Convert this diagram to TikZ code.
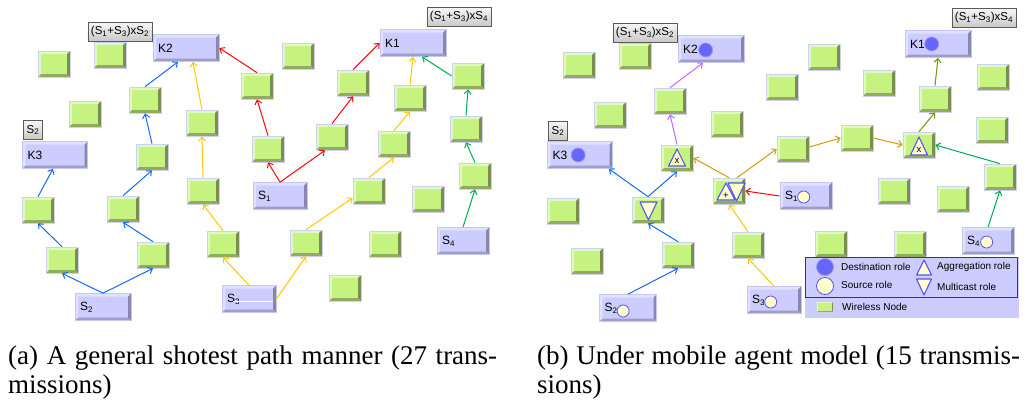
\documentclass[tikz,border=0pt]{standalone}
\usepackage{fontspec}
\setmainfont{Liberation Serif}
\newfontfamily\arialfont{Liberation Sans}
\usetikzlibrary{arrows.meta}

\definecolor{wgreen}{RGB}{198,242,128}
\definecolor{wlight}{RGB}{224,249,190}
\definecolor{wdark}{RGB}{122,142,82}
\definecolor{wdarkb}{RGB}{148,170,98}
\definecolor{wedge}{RGB}{205,210,238}
\definecolor{pfill}{RGB}{204,204,255}
\definecolor{plight}{RGB}{224,224,255}
\definecolor{pdark}{RGB}{135,135,175}
\definecolor{pdarkb}{RGB}{158,158,200}
\definecolor{pedge}{RGB}{198,198,238}
\definecolor{taglight}{RGB}{246,246,246}
\definecolor{tagdark}{RGB}{200,200,200}
\definecolor{tagedge}{RGB}{90,90,90}
\definecolor{cblue}{RGB}{20,105,245}
\definecolor{cyellow}{RGB}{255,200,0}
\definecolor{cred}{RGB}{245,10,10}
\definecolor{cgreen}{RGB}{0,170,85}
\definecolor{cpurple}{RGB}{200,100,255}
\definecolor{cgold}{RGB}{210,155,20}
\definecolor{colive}{RGB}{110,150,10}
\definecolor{dotblue}{RGB}{102,102,255}
\definecolor{dotyellow}{RGB}{255,255,204}
\definecolor{roleedge}{RGB}{85,85,240}
\definecolor{legedge}{RGB}{60,60,60}

\tikzset{
  bevel/.style n args={4}{path picture={
    \path (path picture bounding box.south west) coordinate (bSW)
          (path picture bounding box.north west) coordinate (bNW)
          (path picture bounding box.north east) coordinate (bNE)
          (path picture bounding box.south east) coordinate (bSE);
    \fill[#1] (bSW) -- (bNW) -- (bNE) -- ([xshift=-#4,yshift=-#4]bNE)
          -- ([xshift=#4,yshift=-#4]bNW) -- ([xshift=#4,yshift=#4]bSW) -- cycle;
    \fill[#2] (bNE) -- (bSE) -- ([xshift=-#4,yshift=#4]bSE) -- ([xshift=-#4,yshift=-#4]bNE) -- cycle;
    \fill[#3] (bSW) -- (bSE) -- ([xshift=-#4,yshift=#4]bSE) -- ([xshift=#4,yshift=#4]bSW) -- cycle;
  }},
  wnode/.style={rectangle, minimum width=32pt, minimum height=26pt, inner sep=0pt,
    fill=wgreen, draw=wedge, line width=0.7pt, bevel={wlight}{wdark}{wdarkb}{3pt}},
  knode/.style={rectangle, minimum height=27pt, inner xsep=5pt, inner ysep=0pt,
    text width=56pt, align=left, fill=pfill, draw=pedge, line width=0.7pt,
    bevel={plight}{pdark}{pdarkb}{3pt}, font=\arialfont\fontsize{12}{13}\selectfont},
  snode/.style={knode, text width=44pt},
  tag/.style={rectangle, draw=tagedge, line width=0.8pt, top color=taglight,
    bottom color=tagdark, minimum height=19pt, inner xsep=3pt, inner ysep=0pt,
    font=\arialfont\fontsize{11.5}{13}\selectfont},
  link/.style={line width=1pt, -{Straight Barb[length=4pt,width=7pt]}},
  dest/.style={circle, fill=dotblue, draw=roleedge!60, line width=0.8pt,
    minimum size=14pt, inner sep=0pt},
  src/.style={circle, fill=dotyellow, draw=roleedge, line width=0.8pt,
    minimum size=12pt, inner sep=0pt},
  role/.style={fill=dotyellow, draw=roleedge, line width=1.1pt, line join=round},
  rolesign/.style={inner sep=0pt, font=\arialfont\fontsize{9.5}{9.5}\selectfont},
  legtext/.style={anchor=west, inner sep=0pt, font=\arialfont\fontsize{10}{12}\selectfont},
  subcap/.style={anchor=base west, inner sep=0pt, font=\fontsize{27}{30}\selectfont},
}

\begin{document}
\begin{tikzpicture}[x=1pt, y=-1pt]
\useasboundingbox (0,0) rectangle (1027,405);
\fill[white] (0,0) rectangle (1027,405);

% ---------------- (a) shortest paths ----------------
\foreach \n/\px/\py in {a1/54/64, a2/110/55, a3/85/114, a4/145/100, a5/152/157,
  a6/202/123, a9/257/86, a10/298/56, a11/353/83, a14/410/98, a15/468/76,
  a16/466/129, a17/332/137, a18/394/144, a19/268/149, a26/203/191, a28/38/210,
  a29/62/260, a30/123/209, a31/153/255, a32/223/244, a37/369/191, a38/306/243,
  a39/428/199, a40/385/244, a41/345/288, a42/475/176}
  \node[wnode] (\n) at (\px,\py) {};

\node[knode] (aK2) at (186,48) {K2};
\node[knode] (aK1) at (413,43) {K1};
\node[knode, text width=55pt] (aK3) at (55,155) {K3};
\node[snode] (aS1) at (280,196) {S\textsubscript{1}};
\node[snode, text width=46pt] (aS2) at (103,307) {S\textsubscript{2}};
\node[snode] (aS3) at (249,299) {S\textsubscript{3}};
\node[snode, text width=42pt] (aS4) at (463,241) {S\textsubscript{4}};
\draw[white, line width=0.8pt] (233,301) -- (273,301);

\node[tag] (aT2) at (120,32) {(S\textsubscript{1}+S\textsubscript{3})xS\textsubscript{2}};
\node[tag] (aT1) at (459,17) {(S\textsubscript{1}+S\textsubscript{3})xS\textsubscript{4}};
\node[tag] (aT3) at (33,130) {S\textsubscript{2}};

% blue: S2 -> K3, K2
\draw[link, cblue] (aS2.north) -- (a29.south);
\draw[link, cblue] (aS2.north) -- (a31.south);
\draw[link, cblue] (a29.north) -- (a28.south);
\draw[link, cblue] (a28.north) -- ([xshift=-2pt]aK3.south);
\draw[link, cblue] (a31.north) -- (a30.south);
\draw[link, cblue] (a30.north) -- (a5.south);
\draw[link, cblue] (a5.north) -- (a4.south);
\draw[link, cblue] (a4.north) -- ([xshift=-8pt]aK2.south);
% yellow: S3 -> K2, K1
\draw[link, cyellow] (aS3.north) -- (a32.south);
\draw[link, cyellow] (a32.north) -- (a26.south);
\draw[link, cyellow] (a26.north) -- (a6.south);
\draw[link, cyellow] (a6.north) -- ([xshift=7pt]aK2.south);
\draw[link, cyellow] (aS3.east) -- (a38.south);
\draw[link, cyellow] (a38.north) -- ([yshift=-7pt]a37.west);
\draw[link, cyellow] (a37.north) -- (a18.south);
\draw[link, cyellow] (a18.north) -- (a14.south);
\draw[link, cyellow] (a14.north) -- (aK1.south);
% red: S1 -> K2, K1
\draw[link, cred] (aS1.north) -- (a19.south);
\draw[link, cred] (aS1.north) -- ([xshift=-7pt]a17.south);
\draw[link, cred] (a19.north) -- (a9.south);
\draw[link, cred] (a9.north) -- (aK2.east);
\draw[link, cred] (a17.north) -- (a11.south);
\draw[link, cred] (a11.north) -- (aK1.west);
% green: S4 -> K1
\draw[link, cgreen] (aS4.north) -- (a42.south);
\draw[link, cgreen] (a42.north) -- (a16.south);
\draw[link, cgreen] (a16.north) -- (a15.south);
\draw[link, cgreen] (a15.west) -- ([xshift=9pt]aK1.south);

% ---------------- (b) mobile agent model ----------------
\foreach \n/\px/\py in {b1/579/65, b2/635/56, b3/610/115, b4/670/101, b5/677/158,
  b6/727/124, b9/782/87, b10/824/57, b11/879/83, b14/935/99, b15/993/77,
  b16/992/130, b17/857/138, b18/919/145, b19/793/149, b26/729/191, b28/563/211,
  b29/587/261, b30/648/210, b31/678/255, b32/748/245, b37/894/191, b38/831/244,
  b39/953/199, b40/910/244, b42/1000/177}
  \node[wnode] (\n) at (\px,\py) {};

\node[knode] (bK2) at (711,49) {K2};
\node[knode] (bK1) at (938,44) {K1};
\node[knode, text width=55pt] (bK3) at (580,155) {K3};
\node[snode, text width=42pt] (bS1) at (806,196) {S\textsubscript{1}};
\node[snode, text width=47pt] (bS2) at (628,308) {S\textsubscript{2}};
\node[snode] (bS3) at (774,300) {S\textsubscript{3}};
\node[snode, text width=42pt] (bS4) at (988,241) {S\textsubscript{4}};

\node[dest] (dK2) at ([xshift=28pt,yshift=-1pt]bK2.west) {};
\node[dest] (dK1) at ([xshift=27pt]bK1.west) {};
\node[dest] (dK3) at ([xshift=31pt]bK3.west) {};
\node[src] (sS1) at ([xshift=24pt,yshift=-1pt]bS1.west) {};
\node[src] (sS2) at ([xshift=24pt,yshift=-3pt]bS2.west) {};
\node[src] (sS3) at ([xshift=24pt,yshift=-2pt]bS3.west) {};
\node[src] (sS4) at ([xshift=25pt,yshift=-1pt]bS4.west) {};

\node[tag] (bT2) at (645,33) {(S\textsubscript{1}+S\textsubscript{3})xS\textsubscript{2}};
\node[tag] (bT1) at (984,18) {(S\textsubscript{1}+S\textsubscript{3})xS\textsubscript{4}};
\node[tag] (bT3) at (558,131) {S\textsubscript{2}};

% aggregation / multicast roles carried by the agents
\draw[role] (677,149) -- (685.5,166) -- (668.5,166) -- cycle;
\node[rolesign] (xb5) at (677,160.5) {x};
\draw[role] (919,137) -- (927.5,155) -- (910.5,155) -- cycle;
\node[rolesign] (xb18) at (919,149.5) {x};
\draw[role] (640,202) -- (657,202) -- (648.5,220) -- cycle;
\draw[role] (728,183) -- (745,183) -- (736.5,201) -- cycle;
\draw[role] (726,183) -- (735,200) -- (717,200) -- cycle;
\node[rolesign] (pb26) at (726,195.5) {+};

% blue
\draw[link, cblue] (bS2.north) -- (b31.south);
\draw[link, cblue] (b31.north) -- (b30.south);
\draw[link, cblue] (b30.north) -- ([xshift=-4pt]bK3.south east);
\draw[link, cblue] (b30.north) -- (b5.south);
% purple
\draw[link, cpurple] (b5.north) -- (b4.south);
\draw[link, cpurple] (b4.north) -- ([xshift=-8pt]bK2.south);
% gold
\draw[link, cgold] (b26.north) -- (b5.east);
\draw[link, cgold] ([xshift=8pt]b26.north) -- (b19.west);
\draw[link, cgold] ([yshift=2pt]b19.east) -- (b17.west);
\draw[link, cgold] (b17.east) -- (b18.west);
% olive
\draw[link, colive] (b18.north) -- (b14.south);
\draw[link, colive] (b14.north) -- (bK1.south);
% green
\draw[link, cgreen] (bS4.north) -- (b42.south);
\draw[link, cgreen] (b42.north) -- (b18.east);
% yellow
\draw[link, cyellow] (bS3.north) -- (b32.south);
\draw[link, cyellow] (b32.north) -- (b26.south);
% red
\draw[link, cred] (bS1.west) -- (b26.east);

% legend
\fill[pfill] (805,257) rectangle (1019,318);
\draw[legedge, line width=1.2pt] (805.5,257.5) rectangle (1017.5,297.5);
\node[dest, minimum size=17pt] (lgD) at (825,267) {};
\node[src, minimum size=17pt] (lgS) at (825,286) {};
\draw[role] (924,260) -- (931.5,275) -- (916.5,275) -- cycle;
\draw[role] (916.5,279) -- (931.5,279) -- (924,295) -- cycle;
\node[wnode, minimum width=17pt, minimum height=11pt, bevel={wlight}{wdark}{wdarkb}{1.5pt}] (lgW) at (825,307) {};
\node[legtext] (lt1) at (841,267) {Destination role};
\node[legtext] (lt2) at (841,285) {Source role};
\node[legtext] (lt3) at (937,267) {Aggregation role};
\node[legtext] (lt4) at (937,287) {Multicast role};
\node[legtext] (lt5) at (842,307) {Wireless Node};

% sub-captions
\node[subcap] (ca1) at (8,364) {\makebox[489pt][s]{(a) A general shotest path manner (27 trans-}};
\node[subcap] (ca2) at (8,393) {missions)};
\node[subcap] (cb1) at (537,364) {\makebox[483pt][s]{(b) Under mobile agent model (15 transmis-}};
\node[subcap] (cb2) at (537,393) {sions)};
\end{tikzpicture}
\end{document}
